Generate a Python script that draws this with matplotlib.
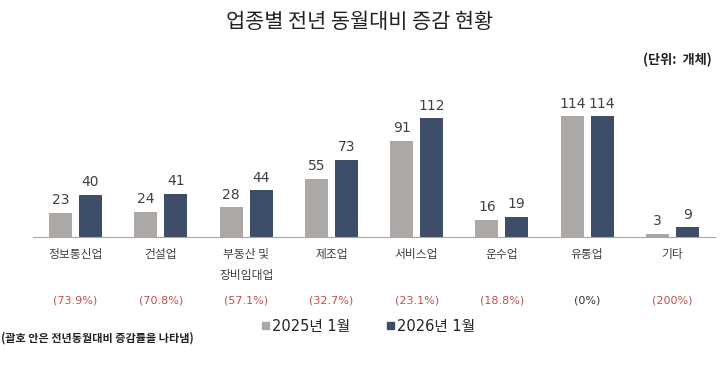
import matplotlib
matplotlib.use('Agg')
import matplotlib.pyplot as plt
import numpy as np
from matplotlib.patches import Rectangle

plt.rcParams['font.family'] = ['Noto Sans CJK KR', 'DejaVu Sans']
num_font = ['DejaVu Sans', 'Noto Sans CJK KR']

categories = ['정보통신업', '건설업', '부동산 및\n장비임대업', '제조업', '서비스업', '운수업', '유통업', '기타']
values_2025 = [23, 24, 28, 55, 91, 16, 114, 3]
values_2026 = [40, 41, 44, 73, 112, 19, 114, 9]
changes = ['(73.9%)', '(70.8%)', '(57.1%)', '(32.7%)', '(23.1%)', '(18.8%)', '(0%)', '(200%)']
series_labels = ['2025년 1월', '2026년 1월']

gray = '#ABA8A6'
navy = '#3E4D68'
red = '#C0504D'

fig = plt.figure(figsize=(7.2, 3.65), dpi=100)
ax = fig.add_axes([33 / 720, 1 - 237 / 365, 682 / 720, 142 / 365])

x = np.arange(len(categories))
w = 0.27
off = 0.175
ax.bar(x - off, values_2025, w, color=gray)
ax.bar(x + off, values_2026, w, color=navy)

for xi, v in zip(x, values_2025):
    ax.annotate(str(v), (xi - off, v), xytext=(0, 4), textcoords='offset points',
                ha='center', va='bottom', fontsize=10, color='#404040', family=num_font)
for xi, v in zip(x, values_2026):
    ax.annotate(str(v), (xi + off, v), xytext=(0, 4), textcoords='offset points',
                ha='center', va='bottom', fontsize=10, color='#404040', family=num_font)

ax.set_xlim(-0.5, len(categories) - 0.5)
ax.set_ylim(0, 134)
for s in ['top', 'right', 'left']:
    ax.spines[s].set_visible(False)
ax.spines['bottom'].set_color('#A6A6A6')
ax.set_yticks([])
ax.set_xticks(x)
ax.set_xticklabels(categories, fontsize=8.5, color='#404040', linespacing=1.75)
ax.tick_params(axis='x', length=0, pad=8)

# 증감률 labels
for xi, c in zip(x, changes):
    ax.annotate(c, (xi, 0), xytext=(0, -46), textcoords='offset points',
                ha='center', va='center', fontsize=8, family=num_font,
                color='#333333' if c == '(0%)' else red)

fig.text(0.5, 1 - 22 / 365, '업종별 전년 동월대비 증감 현황', ha='center', va='center',
         fontsize=15, weight='light', color='#222222')
fig.text(712 / 720, 1 - 60 / 365, '(단위:  개체)', ha='right', va='center',
         fontsize=9.5, weight='bold', color='#222222')
fig.text(1 / 720, 1 - 338 / 365, '(괄호 안은 전년동월대비 증감률을 나타냄)', ha='left', va='center',
         fontsize=8, weight='bold', color='#222222')

# legend
for lx, col, lab in [(262, gray, series_labels[0]), (387, navy, series_labels[1])]:
    fig.patches.append(Rectangle((lx / 720, 1 - 329 / 365), 7 / 720, 7 / 365,
                                 transform=fig.transFigure, color=col))
    fig.text((lx + 10) / 720, 1 - 326 / 365, lab, ha='left', va='center',
             fontsize=10.5, color='#222222', family=num_font)

fig.savefig('out.png', dpi=100)
